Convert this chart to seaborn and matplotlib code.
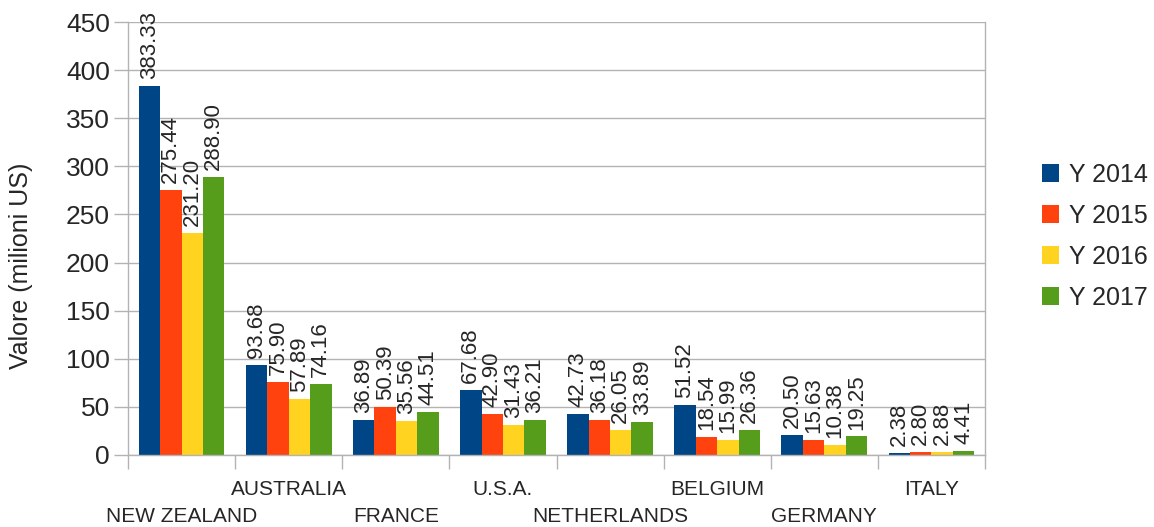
import pandas as pd
import numpy as np
import matplotlib.pyplot as plt
import seaborn as sns

countries = ["NEW ZEALAND", "AUSTRALIA", "FRANCE", "U.S.A.", "NETHERLANDS",
             "BELGIUM", "GERMANY", "ITALY"]
years = ["Y 2014", "Y 2015", "Y 2016", "Y 2017"]
y2014 = [383.33, 93.68, 36.89, 67.68, 42.73, 51.52, 20.50, 2.38]
y2015 = [275.44, 75.90, 50.39, 42.90, 36.18, 18.54, 15.63, 2.80]
y2016 = [231.20, 57.89, 35.56, 31.43, 26.05, 15.99, 10.38, 2.88]
y2017 = [288.90, 74.16, 44.51, 36.21, 33.89, 26.36, 19.25, 4.41]
colors = ["#004586", "#ff420e", "#ffd320", "#579d1c"]

rows = []
for year, vals in zip(years, [y2014, y2015, y2016, y2017]):
    for c, v in zip(countries, vals):
        rows.append({"country": c, "year": year, "value": v})
df = pd.DataFrame(rows)

sns.set_theme(style="white")
plt.rcParams['font.family'] = ['Liberation Sans', 'DejaVu Sans']

fig = plt.figure(figsize=(11.54, 5.27), dpi=100)
ax = fig.add_axes([128 / 1154, 1 - 455 / 527, (985 - 128) / 1154, (455 - 22) / 527])

sns.barplot(data=df, x="country", y="value", hue="year", palette=colors,
            width=0.8, saturation=1, linewidth=0, ax=ax, zorder=2)

for cont in ax.containers:
    ax.bar_label(cont, fmt="%.2f", rotation=90, padding=5, fontsize=16)

ax.set_ylim(0, 450)
ax.set_yticks(np.arange(0, 451, 50))
ax.set_xlim(-0.5, len(countries) - 0.5)
ax.yaxis.grid(True, color="#b3b3b3", linewidth=1, zorder=0)
ax.tick_params(axis="y", length=10, color="#b3b3b3", width=1, labelsize=19, pad=3, left=True)

# category labels, alternating between two rows
ax.set_xticks(range(len(countries)))
ax.set_xticklabels(countries, fontsize=15)
ax.tick_params(axis="x", length=0, pad=18)
for i, lab in enumerate(ax.get_xticklabels()):
    if i % 2 == 0:
        lab.set_y(-0.063)
ax.set_xticks(np.arange(-0.5, len(countries), 1), minor=True)
ax.tick_params(axis="x", which="minor", length=10, color="#b3b3b3", width=1, bottom=True)

for side in ["left", "bottom", "right"]:
    ax.spines[side].set_color("#b3b3b3")
    ax.spines[side].set_linewidth(1)
ax.spines["top"].set_visible(False)

ax.set_xlabel("")
ax.set_ylabel("Valore (milioni US)", fontsize=18)
ax.yaxis.set_label_coords(-0.111, 0.4365)

ax.legend(loc="center left", bbox_to_anchor=(1.066, 0.505), frameon=False,
          fontsize=18, handlelength=0.7, handleheight=0.7, labelspacing=0.68,
          handletextpad=0.4, borderaxespad=0, borderpad=0)

plt.savefig("out.png", dpi=100)
plt.close()
